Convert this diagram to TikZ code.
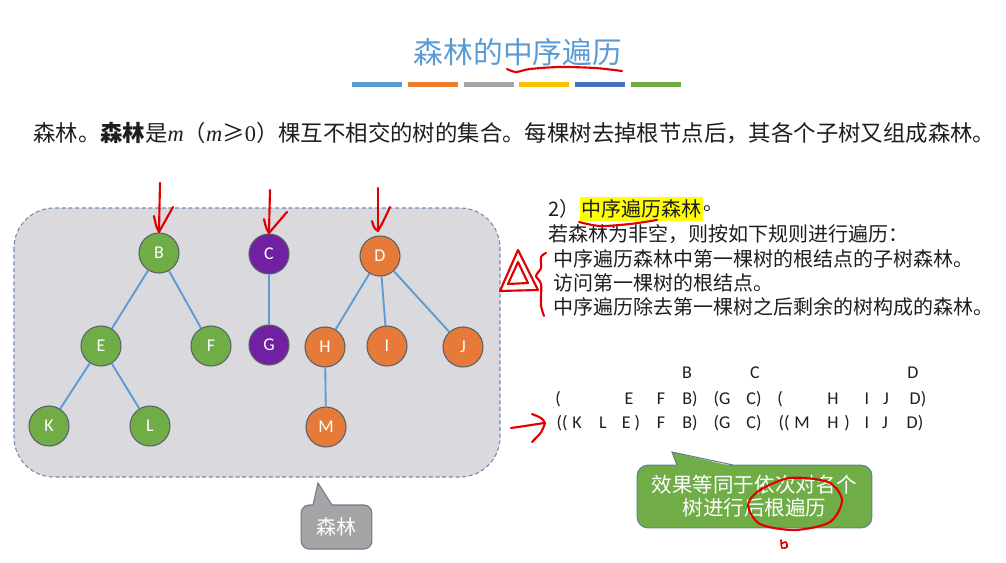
\documentclass[tikz,border=0pt]{standalone}
\usepackage{fontspec}
\usepackage{xcolor}
\setmainfont{Carlito}
\newfontfamily\cjk{Noto Sans CJK SC}
\newfontfamily\tms{Liberation Serif}
\usetikzlibrary{positioning}

\definecolor{titleblue}{RGB}{91,155,213}
\definecolor{barblue}{RGB}{91,155,213}
\definecolor{barorange}{RGB}{237,125,49}
\definecolor{bargray}{RGB}{165,165,165}
\definecolor{baryellow}{RGB}{255,192,0}
\definecolor{bardarkblue}{RGB}{68,114,196}
\definecolor{bargreen}{RGB}{112,173,71}
\definecolor{boxgray}{RGB}{217,217,222}
\definecolor{boxline}{RGB}{112,140,180}
\definecolor{leafgreen}{RGB}{112,173,71}
\definecolor{rootpurple}{RGB}{112,32,160}
\definecolor{treeorange}{RGB}{230,122,56}
\definecolor{nodeline}{RGB}{88,98,104}
\definecolor{edgeblue}{RGB}{91,155,213}
\definecolor{notegray}{RGB}{165,165,168}
\definecolor{notegrayline}{RGB}{110,122,140}
\definecolor{notegreen}{RGB}{112,173,71}
\definecolor{notegreenline}{RGB}{88,132,150}
\definecolor{hlyellow}{RGB}{255,255,0}
\definecolor{inkdark}{RGB}{30,30,30}
\definecolor{penred}{RGB}{225,0,0}

\begin{document}
\begin{tikzpicture}[x=0.75pt, y=-0.75pt,
    tnode/.style={circle, draw=nodeline, line width=0.8pt, minimum size=30pt, inner sep=0pt,
      text=white, font=\fontsize{13.5}{16}\selectfont},
    branch/.style={draw=edgeblue, line width=1.4pt},
    seq/.style={font=\fontsize{13.5}{16}\selectfont, text=inkdark, inner sep=0pt},
    txt/.style={font=\cjk\fontsize{15}{18}\selectfont, text=inkdark, anchor=west, inner sep=0pt},
    pen/.style={draw=penred, line width=1.6pt, line cap=round, line join=round}]
  \useasboundingbox (0,0) rectangle (1006,563);

  % title and colour bars
  \node[font=\cjk\fontsize{22.3}{26}\selectfont, text=titleblue] (title) at (518,52) {森林的中序遍历};
  \foreach \c [count=\i] in {barblue,barorange,bargray,baryellow,bardarkblue,bargreen}
    \fill[\c] ({352+(\i-1)*55.8},82) rectangle +(50,5);

  % definition
  \node[font=\cjk\fontsize{16.8}{20}\selectfont, text=inkdark, anchor=west, inner sep=0pt] (defn) at (33,133)
    {森林。\textbf{森林}是{\tms\itshape m}（{\tms\itshape m}≥{\tms 0}）棵互不相交的树的集合。每棵树去掉根节点后，其各个子树又组成森林。};

  % forest
  \draw[dashed, dash pattern=on 3pt off 2pt, draw=boxline, fill=boxgray, line width=0.8pt, rounded corners=30pt]
    (14,208) rectangle (500,477);

  \node[tnode, fill=leafgreen] (B) at (159,253) {B};
  \node[tnode, fill=leafgreen] (E) at (101,346) {E};
  \node[tnode, fill=leafgreen] (F) at (211,346) {F};
  \node[tnode, fill=leafgreen] (K) at (49,426) {K};
  \node[tnode, fill=leafgreen] (L) at (150,426) {L};
  \node[tnode, fill=rootpurple] (C) at (269,254) {C};
  \node[tnode, fill=rootpurple] (G) at (269,345) {G};
  \node[tnode, fill=treeorange] (D) at (380,256) {D};
  \node[tnode, fill=treeorange] (H) at (325,347) {H};
  \node[tnode, fill=treeorange] (I) at (387,346) {I};
  \node[tnode, fill=treeorange] (J) at (463,347) {J};
  \node[tnode, fill=treeorange] (M) at (326,427) {M};

  \draw[branch] (B) -- (E);
  \draw[branch] (B) -- (F);
  \draw[branch] (E) -- (K);
  \draw[branch] (E) -- (L);
  \draw[branch] (C) -- (G);
  \draw[branch] (D) -- (H);
  \draw[branch] (D) -- (I);
  \draw[branch] (D) -- (J);
  \draw[branch] (H) -- (M);

  % callout under the forest
  \node[fill=notegray, draw=notegrayline, line width=0.8pt, rounded corners=6pt, minimum width=53pt,
    minimum height=33pt, text=white, font=\cjk\fontsize{15}{18}\selectfont] (forestnote) at (336.5,527) {森林};
  \coordinate (foresttip) at (318,483);
  \fill[notegray] (313,506) -- (foresttip) -- (332,506) -- cycle;
  \draw[notegrayline, line width=0.8pt] (313,505) -- (foresttip) -- (332,505);

  % rules
  \node[txt] (rule0) at (548,209) {2）};
  \node[txt, fill=hlyellow, inner xsep=1pt, inner ysep=2pt, right=0pt of rule0] (rule0h) {中序遍历森林};
  \node[txt, right=0pt of rule0h] (rule0e) {。};
  \node[txt] (rule1) at (548,234) {若森林为非空，则按如下规则进行遍历：};
  \node[txt] (rule2) at (553,259) {中序遍历森林中第一棵树的根结点的子树森林。};
  \node[txt] (rule3) at (553,283) {访问第一棵树的根结点。};
  \node[txt] (rule4) at (553,307) {中序遍历除去第一棵树之后剩余的树构成的森林。};

  % traversal sequence
  \foreach \x/\y/\t [count=\i] in {687/373/B, 755/373/C, 913/373/D,
      558/399/{(}, 629/399/E, 661/399/F, 690/399/{B)}, 722/399/{(G}, 754/399/{C)},
      780/399/{(}, 833/399/H, 867/399/I, 886/399/J, 918/399/{D)},
      562/423/{((}, 577/423/K, 603/423/L, 631/423/{E )}, 661/423/F, 690/423/{B)},
      722/423/{(G}, 754/423/{C)}, 784/423/{((}, 802/423/M, 833/423/H, 847/423/{)},
      867/423/I, 885/423/J, 915/423/{D)}}
    \node[seq] (s\i) at (\x,\y) {\t};

  % green callout
  \node[fill=notegreen, draw=notegreenline, line width=0.8pt, rounded corners=8pt, minimum width=176pt,
    minimum height=47pt, text=white, align=center, font=\cjk\fontsize{15.4}{17.3}\selectfont] (effect)
    at (754.5,496.5) {效果等同于依次对各个\\树进行后根遍历};
  \coordinate (effecttip) at (672,452);
  \fill[notegreen] (677,466.5) -- (effecttip) -- (733,466.5) -- cycle;
  \draw[notegreenline, line width=0.8pt] (677,465) -- (effecttip) -- (733,465);

  % red pen marks
  \draw[pen] plot[smooth] coordinates {(507,69) (516,72) (530,69) (560,67) (595,68) (622,71)};
  \draw[pen] (160,183) -- (159,231);
  \draw[pen] (154,216) .. controls (156,226) .. (159,232) .. controls (166,220) .. (173,207);
  \draw[pen] (270,190) -- (269,232);
  \draw[pen] (264,219) .. controls (266,228) .. (269,233) .. controls (278,222) .. (287,212);
  \draw[pen] (378,188) -- (378,230);
  \draw[pen] (372,221) .. controls (374,228) .. (378,231) .. controls (384,220) .. (390,207);
  \draw[pen] plot[smooth] coordinates {(579,222) (600,226) (630,224) (657,220)};
  \draw[pen] (518,250) -- (500,291) -- (538,290) -- cycle;
  \draw[pen] (518,262) -- (508,284) -- (528,283) -- cycle;
  \draw[pen] plot[smooth] coordinates {(546,253) (541,257) (541,268) (536,276) (541,284) (541,305) (544,316)};
  \draw[pen] (511,428) .. controls (525,426) .. (544,423);
  \draw[pen] (532,414) .. controls (542,418) .. (545,423) .. controls (542,432) .. (532,442);
  \draw[pen] plot[smooth cycle] coordinates {(760,490) (790,478) (828,482) (842,500) (830,522) (795,530) (760,524) (748,505)};
  \draw[pen, line width=1.2pt] plot[smooth] coordinates {(781,540) (782,548) (787,547) (786,542) (781,544)};
\end{tikzpicture}
\end{document}
